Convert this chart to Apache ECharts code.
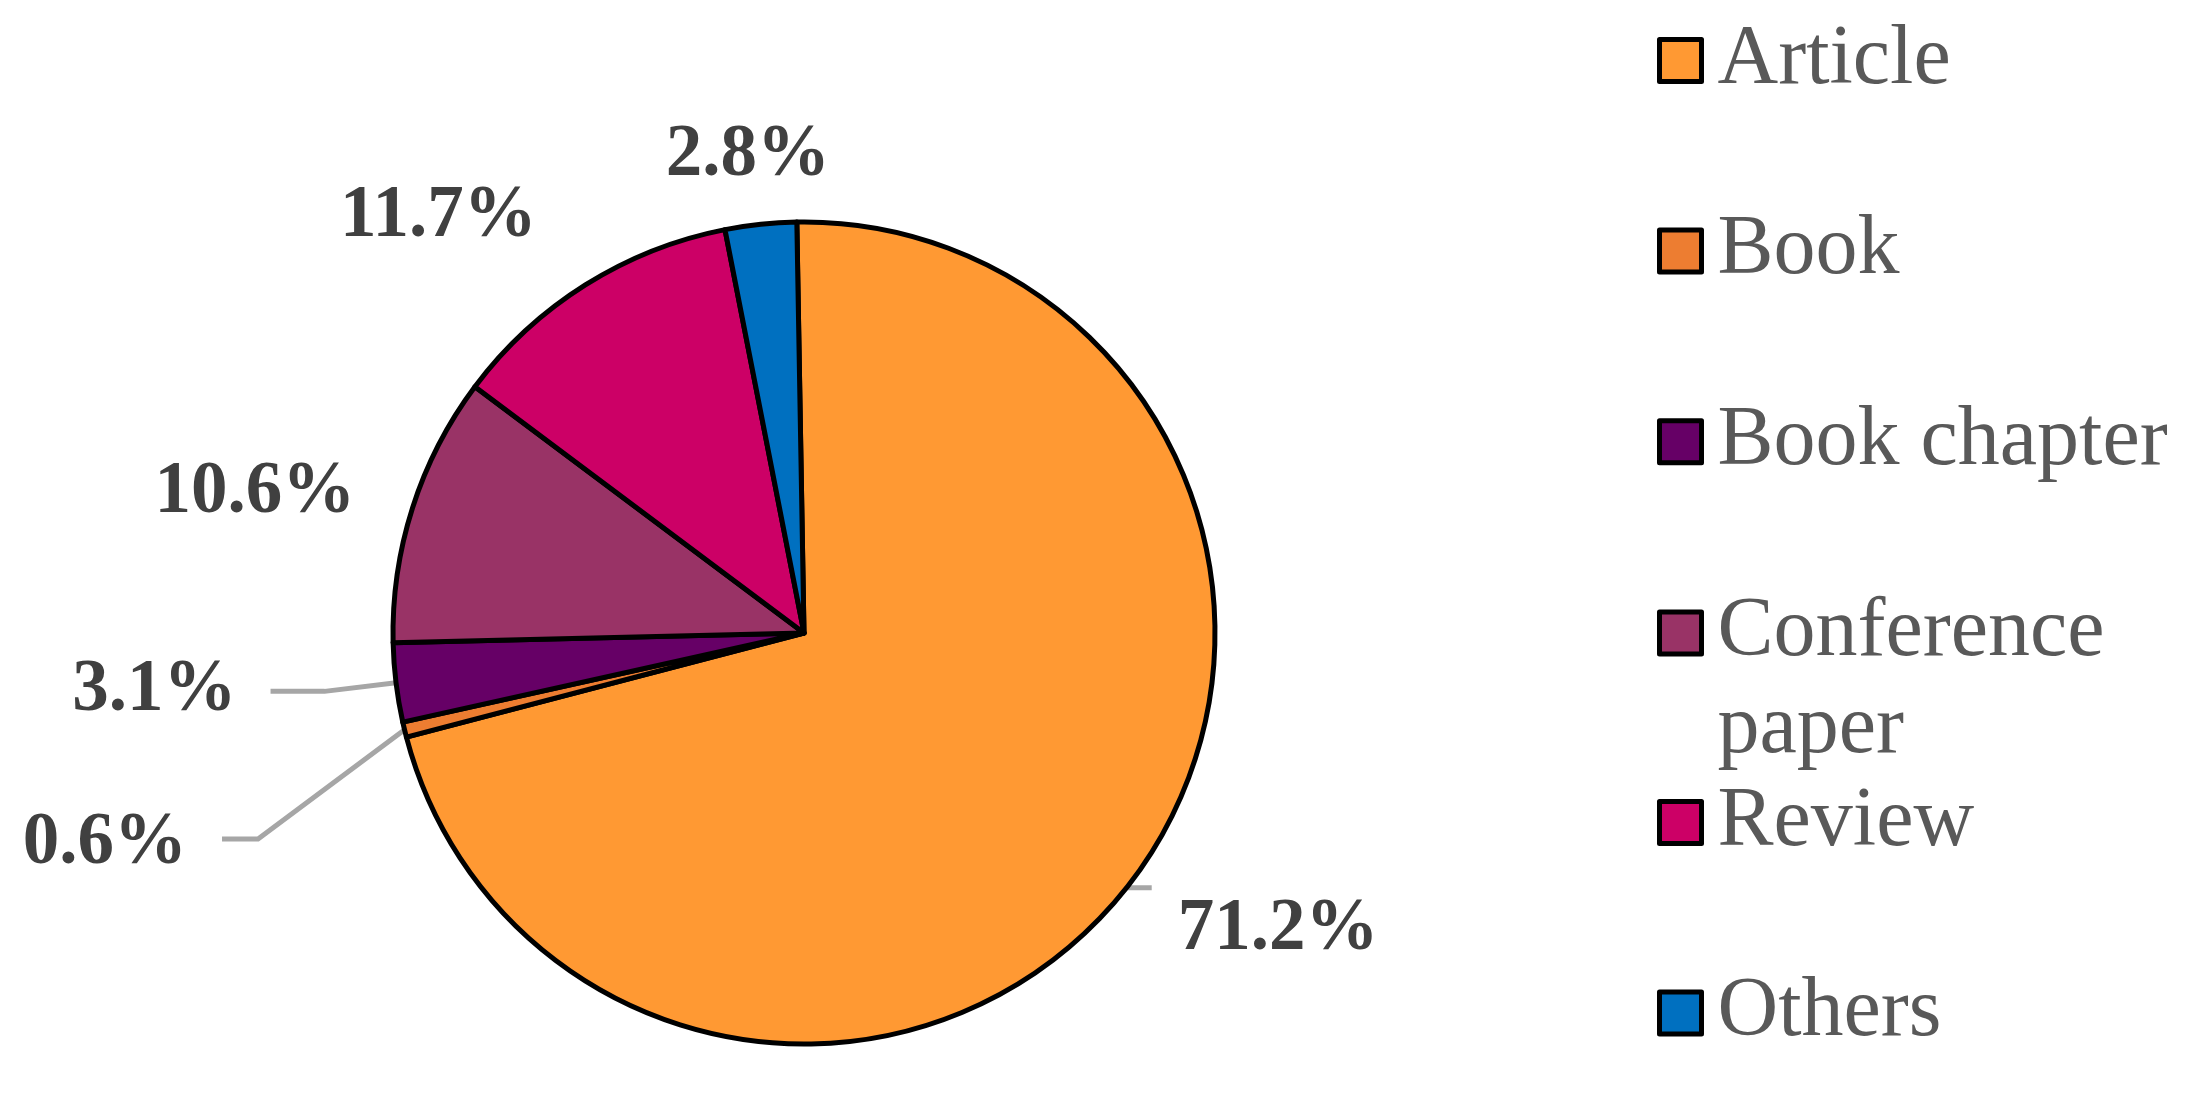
<!DOCTYPE html>
<html><head><meta charset="utf-8">
<script src="https://cdn.jsdelivr.net/npm/echarts@6/dist/echarts.min.js"></script>
<style>html,body{margin:0;padding:0;background:#fff}#c{width:2199px;height:1104px}</style>
</head><body><div id="c"></div>
<script>
const categories = ['Article', 'Book', 'Book chapter', 'Conference paper', 'Review', 'Others'];
const shares = [71.2, 0.6, 3.1, 10.6, 11.7, 2.8];
const colors = ['#FF9933', '#ED7D31', '#660066', '#993366', '#CC0066', '#0070C0'];
// label line / placement styling per slice
const labelStyles = [
  { len: 9, len2: 13, dist: 26, line: true },
  { len: 10, len2: 10, dist: 5, line: true },
  { len: 72, len2: 54, dist: 34, line: true },
  { len: 47, len2: 0, dist: 12.5, line: false },
  { len: 80, len2: 0, dist: 6, line: false },
  { len: 69, len2: 0, dist: -76.5, line: false }
];
const serif = "'Liberation Serif', 'Times New Roman', serif";

const data = categories.map((name, i) => ({
  name: name,
  value: shares[i],
  itemStyle: { color: colors[i] },
  label: { distanceToLabelLine: labelStyles[i].dist },
  labelLine: { show: labelStyles[i].line, length: labelStyles[i].len, length2: labelStyles[i].len2 }
}));

const legendBase = {
  orient: 'vertical',
  left: 1657,
  padding: 0,
  itemGap: 93.6,
  itemWidth: 42,
  itemHeight: 42,
  icon: 'rect',
  selectedMode: false,
  itemStyle: { borderColor: '#000000', borderWidth: 5 },
  // long name wraps; a blank leading line keeps its first line level with the swatch
  formatter: function (name) { return name === 'Conference paper' ? '\u00a0\nConference\npaper' : name; },
  textStyle: {
    fontFamily: serif,
    fontSize: 84,
    color: '#595959',
    lineHeight: 97,
    padding: [0, 0, 0, 11]
  }
};

const chart = echarts.init(document.getElementById('c'), null, { renderer: 'canvas' });
chart.setOption({
  animation: false,
  backgroundColor: '#ffffff',
  legend: [
    Object.assign({}, legendBase, { top: 12, data: categories.slice(0, 3) }),
    Object.assign({}, legendBase, { bottom: 325.5, data: categories.slice(3, 4) }),
    Object.assign({}, legendBase, { top: 774, data: categories.slice(4) })
  ],
  series: [{
    type: 'pie',
    center: [804, 633],
    radius: 411,
    startAngle: 91,
    clockwise: true,
    avoidLabelOverlap: false,
    silent: true,
    itemStyle: { borderColor: '#000000', borderWidth: 5 },
    label: {
      show: true,
      position: 'outside',
      formatter: function (p) { return p.value.toFixed(1) + '%'; },
      fontFamily: serif,
      fontWeight: 'bold',
      fontSize: 73,
      color: '#404040'
    },
    labelLine: { lineStyle: { color: '#A6A6A6', width: 5 }, minTurnAngle: 0 },
    labelLayout: function (p) {
      if (!p.labelLinePoints) return {};
      if (p.dataIndex === 0) {
        const e = p.labelLinePoints[2];
        return {
          x: e[0] + 26,
          y: e[1] + 43.5,
          align: 'left',
          verticalAlign: 'middle',
          labelLinePoints: [[e[0] - 40, e[1] + 1], [e[0], e[1] + 1]]
        };
      }
      if (p.dataIndex === 1) {
        const a = p.labelLinePoints[0];
        return {
          x: a[0] - 217.5,
          y: a[1] + 114,
          align: 'right',
          verticalAlign: 'middle',
          labelLinePoints: [a, [a[0] - 146.5, a[1] + 109.4], [a[0] - 182.5, a[1] + 109.4]]
        };
      }
      return {};
    },
    data: data
  }]
});
</script>
</body></html>
